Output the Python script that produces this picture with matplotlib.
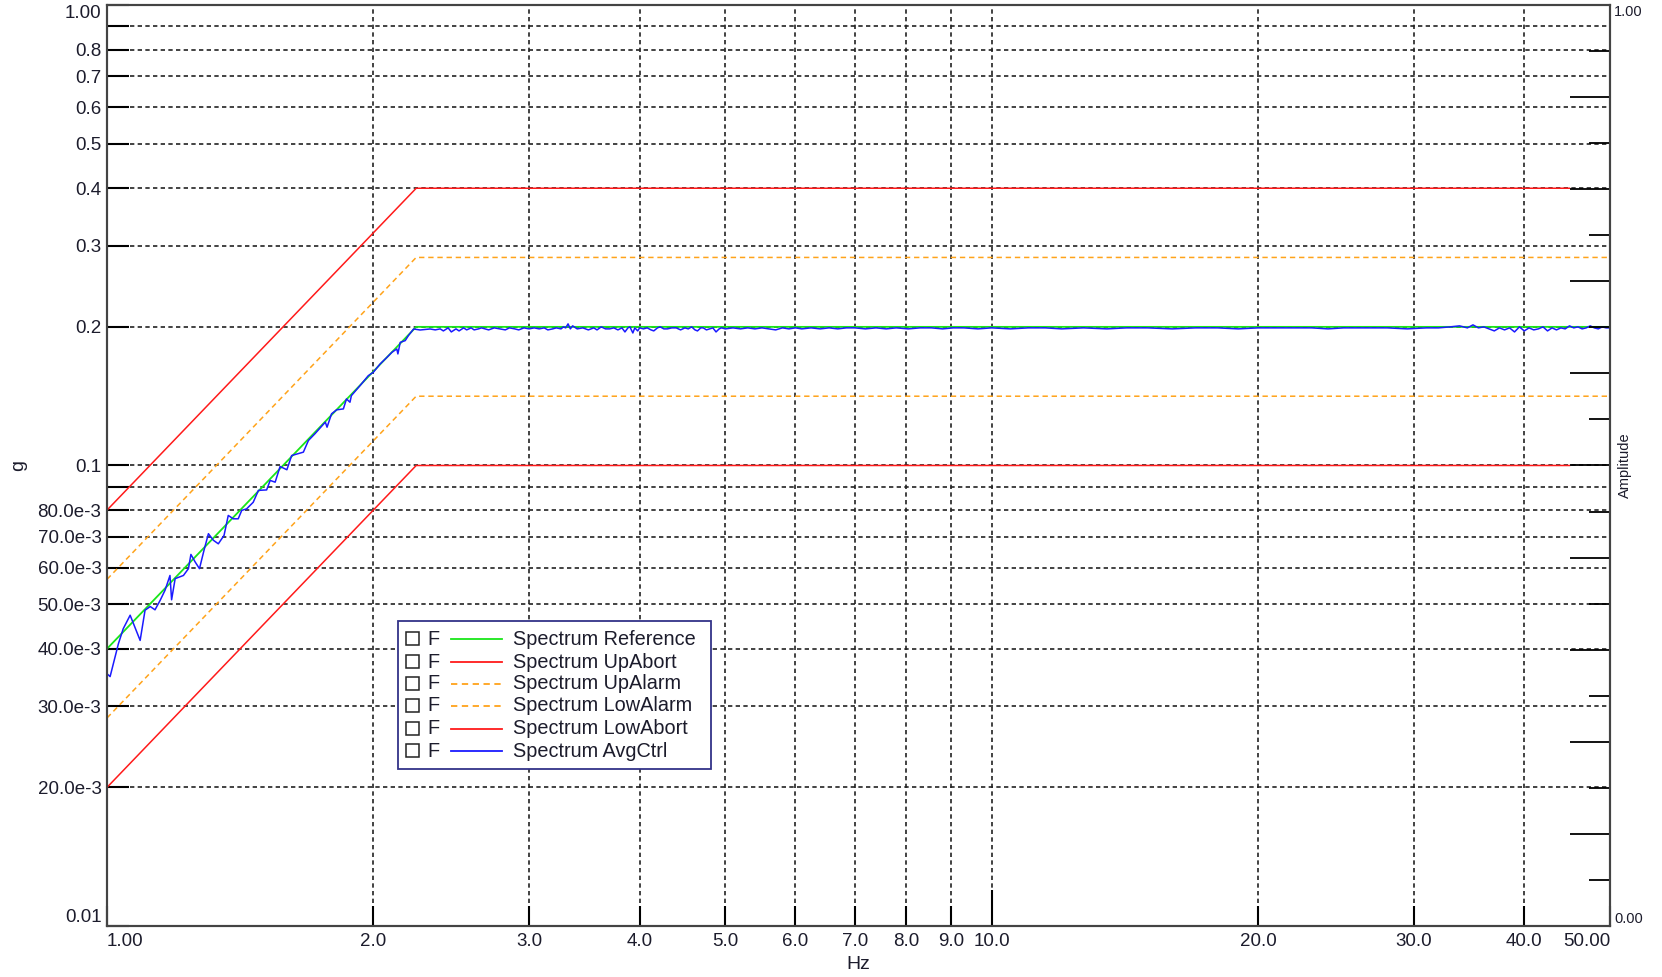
import numpy as np
import matplotlib
matplotlib.use("Agg")
import matplotlib.pyplot as plt
from matplotlib.patches import Rectangle
from matplotlib.lines import Line2D
from matplotlib.ticker import FixedLocator, NullLocator

plt.rcParams['font.family'] = ['Liberation Sans', 'DejaVu Sans']

# limit profiles, breakpoints (Hz, g)
ref_f = [1.0, 2.236, 50.0]
ref_g = [0.04, 0.2, 0.2]
upabort_f = [1.0, 2.236, 45.0]
upabort_g = [0.08, 0.4, 0.4]
upalarm_f = [1.0, 2.236, 50.0]
upalarm_g = [0.0566, 0.283, 0.283]
lowalarm_f = [1.0, 2.236, 50.0]
lowalarm_g = [0.0283, 0.1414, 0.1414]
lowabort_f = [1.0, 2.236, 45.0]
lowabort_g = [0.02, 0.1, 0.1]

# measured control spectrum (read point by point)
avg_f = [1.000, 1.008, 1.021, 1.030, 1.043, 1.062, 1.090, 1.104, 1.119, 1.133,
         1.148, 1.163, 1.173, 1.178, 1.183, 1.194, 1.220, 1.236, 1.244, 1.258,
         1.272, 1.287, 1.302, 1.319, 1.336, 1.356, 1.371, 1.389, 1.407, 1.420,
         1.438, 1.463, 1.483, 1.515, 1.529, 1.549, 1.569, 1.597, 1.617, 1.667,
         1.689, 1.718, 1.765, 1.773, 1.794, 1.818, 1.850, 1.865, 1.882, 1.889,
         1.932, 1.974, 2.000, 2.036, 2.072, 2.099, 2.126, 2.132, 2.145, 2.173,
         2.191, 2.221, 2.259, 2.318,
         2.35, 2.38, 2.40, 2.43, 2.45, 2.48, 2.50, 2.53, 2.55, 2.58,
         2.60, 2.63, 2.65, 2.70, 2.74, 2.78, 2.82, 2.85, 2.89, 2.92,
         2.96, 3.00, 3.04, 3.08, 3.12, 3.15, 3.19, 3.22, 3.26, 3.28,
         3.30, 3.32, 3.34, 3.36, 3.40, 3.45, 3.50, 3.55, 3.58, 3.62,
         3.66, 3.70, 3.74, 3.78, 3.82, 3.85, 3.88, 3.90, 3.93, 3.95,
         3.98, 4.00, 4.04, 4.08, 4.12, 4.15, 4.19, 4.22, 4.26, 4.30,
         4.35, 4.40, 4.45, 4.50, 4.54, 4.58, 4.62, 4.65, 4.69, 4.72,
         4.76, 4.80, 4.84, 4.88, 4.92, 4.95, 5.00, 5.10, 5.20, 5.30,
         5.40, 5.50, 5.60, 5.70, 5.80, 5.90, 6.00, 6.10, 6.25, 6.40,
         6.55, 6.70, 6.85, 7.00, 7.20, 7.40, 7.60, 7.80, 8.05, 8.30,
         8.55, 8.80, 9.05, 9.30, 9.65, 10.0, 10.5, 11.0, 11.5, 12.0,
         12.7, 13.5, 14.2, 15.0, 16.0, 17.0, 18.0, 19.0, 20.0, 21.0,
         22.0, 23.0, 24.0, 25.0, 26.5, 28.0, 29.5, 31.0, 32.0, 33.0,
         33.8, 34.5, 35.0, 35.5, 36.0, 36.5, 37.0, 37.5, 38.0, 38.5,
         39.0, 39.5, 40.0, 40.5, 41.0, 41.5, 42.0, 42.5, 43.0, 43.5,
         44.0, 44.5, 45.0, 45.5, 46.0, 46.5, 47.0, 47.5, 48.0, 48.5,
         49.0, 49.5, 50.0]
avg_g = [0.0353, 0.0348, 0.0384, 0.0410, 0.0442, 0.0473, 0.0417, 0.0485, 0.0494, 0.0486,
         0.0509, 0.0536, 0.0563, 0.0577, 0.0511, 0.0568, 0.0577, 0.0597, 0.0641, 0.0617,
         0.0597, 0.0654, 0.0711, 0.0688, 0.0676, 0.0705, 0.0779, 0.0766, 0.0766, 0.0799,
         0.0805, 0.0832, 0.0883, 0.0885, 0.0928, 0.0920, 0.0995, 0.0979, 0.1051, 0.1069,
         0.1133, 0.1172, 0.1242, 0.1211, 0.1295, 0.1321, 0.1327, 0.1395, 0.1372, 0.1418,
         0.1491, 0.1567, 0.1594, 0.1662, 0.1717, 0.1761, 0.1791, 0.1747, 0.1851, 0.1867,
         0.1914, 0.1979, 0.1969, 0.1979,
         0.197, 0.198, 0.196, 0.199, 0.195, 0.198, 0.196, 0.199, 0.197, 0.199,
         0.197, 0.198, 0.199, 0.197, 0.199, 0.198, 0.197, 0.199, 0.198, 0.197,
         0.199, 0.198, 0.199, 0.198, 0.199, 0.197, 0.198, 0.199, 0.198, 0.200,
         0.199, 0.203, 0.198, 0.201, 0.198, 0.199, 0.197, 0.199, 0.197, 0.200,
         0.198, 0.198, 0.199, 0.197, 0.199, 0.195, 0.199, 0.200, 0.194, 0.199,
         0.196, 0.199, 0.198, 0.199, 0.197, 0.196, 0.199, 0.200, 0.198, 0.198,
         0.199, 0.199, 0.197, 0.199, 0.198, 0.200, 0.197, 0.196, 0.199, 0.199,
         0.197, 0.198, 0.199, 0.195, 0.198, 0.199, 0.198, 0.199, 0.198, 0.199,
         0.198, 0.199, 0.198, 0.197, 0.199, 0.198, 0.199, 0.198, 0.199, 0.198,
         0.199, 0.198, 0.199, 0.199, 0.198, 0.199, 0.198, 0.199, 0.198, 0.199,
         0.199, 0.198, 0.199, 0.199, 0.198, 0.199, 0.198, 0.199, 0.199, 0.198,
         0.199, 0.198, 0.199, 0.199, 0.198, 0.199, 0.199, 0.198, 0.199, 0.199,
         0.199, 0.199, 0.198, 0.199, 0.199, 0.199, 0.198, 0.199, 0.199, 0.200,
         0.201, 0.199, 0.202, 0.199, 0.200, 0.198, 0.196, 0.199, 0.197, 0.199,
         0.195, 0.200, 0.196, 0.199, 0.197, 0.198, 0.200, 0.196, 0.199, 0.197,
         0.199, 0.198, 0.201, 0.199, 0.200, 0.198, 0.199, 0.201, 0.199, 0.198,
         0.200, 0.199, 0.199]

x_ticks = [1, 2, 3, 4, 5, 6, 7, 8, 9, 10, 20, 30, 40, 50]
x_labels = ['1.00', '2.0', '3.0', '4.0', '5.0', '6.0', '7.0', '8.0', '9.0', '10.0',
            '20.0', '30.0', '40.0', '50.00']
y_ticks = [0.01, 0.02, 0.03, 0.04, 0.05, 0.06, 0.07, 0.08, 0.09,
           0.1, 0.2, 0.3, 0.4, 0.5, 0.6, 0.7, 0.8, 0.9, 1.0]
y_labels = ['0.01', '20.0e-3', '30.0e-3', '40.0e-3', '50.0e-3', '60.0e-3', '70.0e-3',
            '80.0e-3', '', '0.1', '0.2', '0.3', '0.4', '0.5', '0.6', '0.7', '0.8', '', '1.00']

legend_names = ['Spectrum Reference', 'Spectrum UpAbort', 'Spectrum UpAlarm',
                'Spectrum LowAlarm', 'Spectrum LowAbort', 'Spectrum AvgCtrl']

green = '#19e619'
red = '#ff1a1a'
orange = '#ffa31a'
blue = '#1a1aff'
txt = '#1c1c2c'
dash = (0, (3.5, 2.5))

fig = plt.figure(figsize=(16.62, 9.77), dpi=100)
ax = fig.add_axes([0.0644, 0.0522, 0.9043, 0.9427])
ax.set_xscale('log')
ax.set_yscale('log')
ax.set_xlim(1, 50)
ax.set_ylim(0.01, 1.0)

ax.plot(ref_f, ref_g, color=green, lw=1.3)
ax.plot(upabort_f, upabort_g, color=red, lw=1.1)
ax.plot(upalarm_f, upalarm_g, color=orange, lw=1.1, linestyle=dash)
ax.plot(lowalarm_f, lowalarm_g, color=orange, lw=1.1, linestyle=dash)
ax.plot(lowabort_f, lowabort_g, color=red, lw=1.1)
ax.plot(avg_f, avg_g, color=blue, lw=1.1)

ax.xaxis.set_major_locator(FixedLocator(x_ticks))
ax.xaxis.set_minor_locator(NullLocator())
ax.set_xticklabels(x_labels)
ax.yaxis.set_major_locator(FixedLocator(y_ticks))
ax.yaxis.set_minor_locator(NullLocator())
ax.set_yticklabels(y_labels)

ax.set_axisbelow(True)
ax.grid(True, color='#222222', lw=1.2, linestyle=(0, (2.6, 2.0)))
ax.tick_params(axis='y', direction='in', length=16, width=1.5, pad=4,
               labelsize=13.5, labelcolor=txt, right=False)
ax.tick_params(axis='x', direction='in', length=14.5, width=1.5, pad=5,
               labelsize=13.5, labelcolor=txt, top=False)
for s in ax.spines.values():
    s.set_color('#444444')
    s.set_linewidth(1.5)

xt = ax.xaxis.get_major_ticks()
xt[0].label1.set_horizontalalignment('left')
xt[-1].label1.set_horizontalalignment('right')
xt[9].tick1line.set_markersize(26)
yt = ax.yaxis.get_major_ticks()
yt[0].label1.set_verticalalignment('bottom')
yt[-1].label1.set_verticalalignment('top')

ax.set_xlabel('Hz', fontsize=14, color=txt, va='center')
ax.xaxis.set_label_coords(0.5, -0.042)
ax.set_ylabel('g', fontsize=14, color=txt, va='center')
ax.yaxis.set_label_coords(-0.0585, 0.5)

# right amplitude axis
ax2 = ax.twinx()
ax2.set_ylim(0, 1)
ax2.set_yticks(np.arange(0, 1.01, 0.1))
ax2.set_yticks(np.arange(0.05, 1.0, 0.1), minor=True)
ax2.set_yticklabels(['0.00'] + [''] * 9 + ['1.00'])
ax2.tick_params(axis='y', which='major', direction='in', length=29, width=1.3,
                pad=3, labelsize=10.5, labelcolor=txt)
ax2.tick_params(axis='y', which='minor', direction='in', length=15, width=1.3)
rt = ax2.yaxis.get_major_ticks()
rt[0].label2.set_verticalalignment('bottom')
rt[-1].label2.set_verticalalignment('top')
ax2.set_ylabel('Amplitude', fontsize=10.5, color=txt, va='center')
ax2.yaxis.set_label_coords(1.0100, 0.5)
for s in ax2.spines.values():
    s.set_color('#444444')
    s.set_linewidth(1.5)

# legend box
colors = [green, red, orange, orange, red, blue]
styles = ['-', '-', dash, dash, '-', '-']
ax.add_patch(Rectangle((0.1936, 0.1705), 0.2083, 0.1607, transform=ax.transAxes,
                       facecolor='white', edgecolor='#333388', lw=1.3, zorder=20))
row_y = [0.3116, 0.2866, 0.2628, 0.2389, 0.2139, 0.1900]
for name, c, ls, y in zip(legend_names, colors, styles, row_y):
    ax.add_patch(Rectangle((0.1989, y - 0.0068), 0.0086, 0.0140, transform=ax.transAxes,
                           facecolor='white', edgecolor='#222222', lw=1.1, zorder=21))
    ax.text(0.2134, y, 'F', transform=ax.transAxes, fontsize=14.3, color=txt,
            va='center', ha='left', zorder=21)
    ax.add_line(Line2D([0.2289, 0.2628], [y, y], transform=ax.transAxes, color=c,
                       lw=1.3, linestyle=ls, zorder=21))
    ax.text(0.2701, y, name, transform=ax.transAxes, fontsize=14.3, color=txt,
            va='center', ha='left', zorder=21)

fig.savefig('out.png', dpi=100)
